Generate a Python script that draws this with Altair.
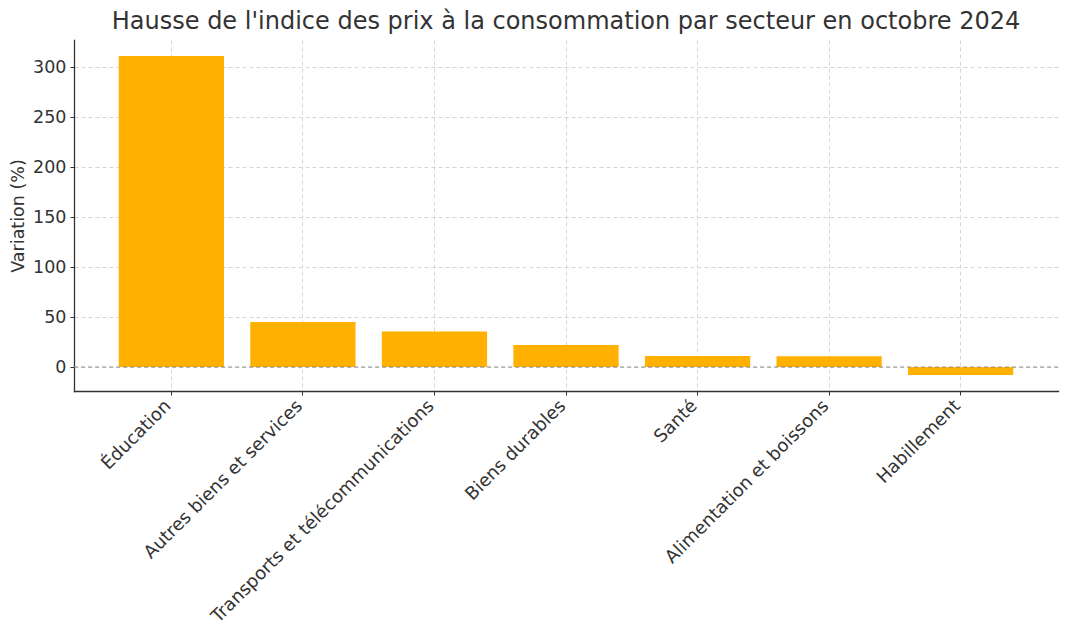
import altair as alt
import pandas as pd

categories = ["Éducation", "Autres biens et services", "Transports et télécommunications",
              "Biens durables", "Santé", "Alimentation et boissons", "Habillement"]
values = [311, 45, 35.5, 22, 11, 10.8, -8]

df = pd.DataFrame({"Secteur": categories, "Variation": values})
zero = pd.DataFrame({"y": [0]})

FONT = "DejaVu Sans"
TXT = "#333333"

bars = alt.Chart(df).mark_bar(color="#FFB000").encode(
    x=alt.X("Secteur:N", sort=categories, title=None,
            scale=alt.Scale(paddingInner=0.2, paddingOuter=0.34),
            axis=alt.Axis(labelAngle=-45, labelAlign="right", labelBaseline="middle",
                          bandPosition=0.5, grid=True, gridDash=[4, 3], gridColor="#cccccc",
                          gridWidth=0.8, tickSize=4, tickColor="#333333", labelPadding=8,
                          labelLimit=0, labelOffset=-3,
                          labelFontSize=18, labelColor=TXT, labelFont=FONT,
                          domainColor="#333333", domainWidth=1.3)),
    y=alt.Y("Variation:Q", title="Variation (%)",
            scale=alt.Scale(domain=[-24, 327], nice=False, zero=False),
            axis=alt.Axis(values=[0, 50, 100, 150, 200, 250, 300], grid=True,
                          gridDash=[4, 3], gridColor="#cccccc", gridWidth=0.8,
                          tickSize=4, tickColor="#333333", labelPadding=4,
                          labelFontSize=17.5, labelColor=TXT, labelFont=FONT,
                          titleFontSize=17.5, titleColor=TXT, titleFont=FONT,
                          titleFontWeight="normal", titlePadding=5,
                          domainColor="#333333", domainWidth=1.3))
)

rule = alt.Chart(zero).mark_rule(color="#888888", strokeDash=[4, 3], strokeWidth=0.9).encode(
    y="y:Q"
)

chart = alt.layer(bars, rule).properties(
    width=984, height=351,
    title=alt.TitleParams("Hausse de l'indice des prix à la consommation par secteur en octobre 2024",
                          fontSize=24, font=FONT, color=TXT, fontWeight="normal",
                          anchor="middle", offset=6),
    autosize=alt.AutoSizeParams(type="none"),
    padding={"left": 66, "top": 32, "right": 2, "bottom": 236},
).configure_view(stroke=None).configure_axis(domainCap="square")

chart.save("out.html", embed_options={"renderer": "svg", "actions": False})
